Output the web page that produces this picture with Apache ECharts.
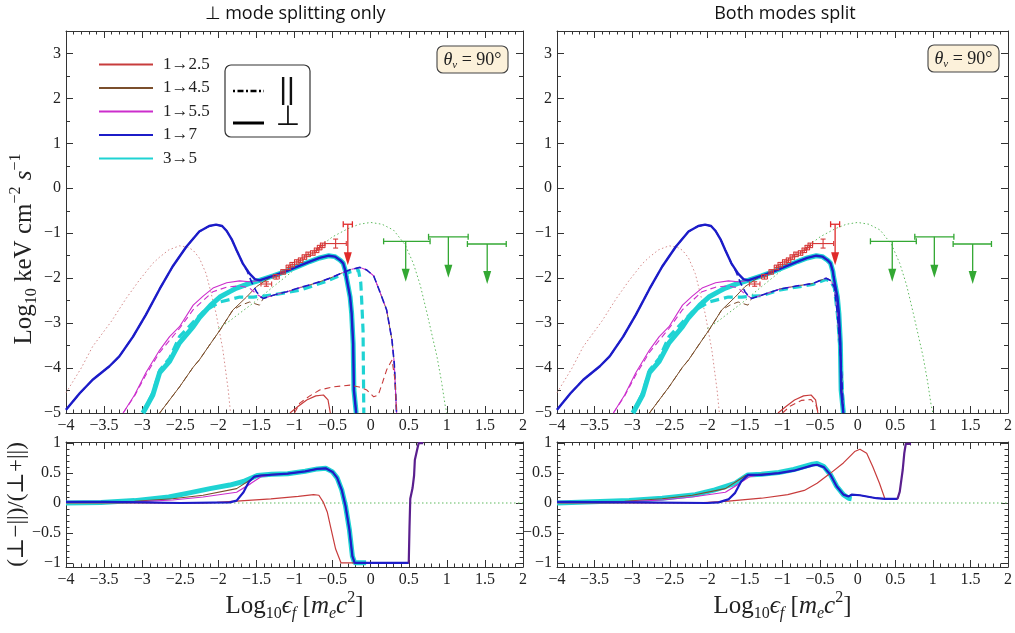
<!DOCTYPE html>
<html><head><meta charset="utf-8">
<script src="https://cdn.jsdelivr.net/npm/echarts@6/dist/echarts.min.js"></script>
<style>html,body{margin:0;padding:0;background:#fff}#c{width:1015px;height:633px}</style>
</head><body><div id="c"></div><script>
// ---------------- DATA ----------------
const legendNames = ['1→2.5', '1→4.5', '1→5.5', '1→7', '3→5'];
const xTickMin = -4, xTickMax = 2, xTickStep = 0.5;
const specMin = -5, specMax = 3.5, specStep = 1;
const ratioLabels = [-1, -0.5, 0, 0.5, 1];

// spectra (log10 flux) -- shared model curves
const pinkDotted = [[-4,-4.55],[-3.8,-4.0],[-3.65,-3.52],[-3.4,-2.95],[-3.21,-2.45],[-3.04,-2.05],[-2.86,-1.67],[-2.77,-1.53],[-2.65,-1.37],[-2.51,-1.28],[-2.4,-1.31],[-2.33,-1.38],[-2.25,-1.55],[-2.16,-1.9],[-2.1,-2.3],[-2.03,-2.78],[-1.94,-3.6],[-1.87,-4.49],[-1.84,-5]];
const greenDotted = [[-2.0,-3.12],[-1.85,-2.95],[-1.72,-2.78],[-1.5,-2.5],[-1.28,-2.19],[-1.05,-1.88],[-0.84,-1.55],[-0.67,-1.3],[-0.5,-1.08],[-0.3,-0.9],[-0.15,-0.8],[0,-0.76],[0.15,-0.8],[0.3,-0.93],[0.45,-1.25],[0.56,-1.67],[0.65,-2.15],[0.74,-2.78],[0.87,-3.74],[0.93,-4.3],[0.98,-4.85],[1.0,-5]];
const upperTail = [[-1.41,-2.02],[-1.28,-1.95],[-1.1,-1.84],[-0.93,-1.72],[-0.8,-1.63],[-0.67,-1.55],[-0.55,-1.5],[-0.47,-1.52],[-0.4,-1.6],[-0.36,-1.67],[-0.33,-1.85],[-0.32,-1.97],[-0.27,-2.42],[-0.25,-2.78],[-0.23,-3.45],[-0.22,-4.49],[-0.19,-5]];
const lowerTailL = [[-1.41,-2.45],[-1.28,-2.38],[-1.1,-2.3],[-0.93,-2.21],[-0.8,-2.15],[-0.67,-2.08],[-0.55,-2.01],[-0.4,-1.9],[-0.27,-1.81],[-0.14,-1.76],[-0.05,-1.82],[0.04,-1.95],[0.12,-2.3],[0.21,-2.71],[0.28,-3.38],[0.31,-3.9],[0.34,-5]];
const lowerTailR = [[-1.41,-2.45],[-1.28,-2.38],[-1.03,-2.24],[-0.8,-2.17],[-0.6,-2.12],[-0.5,-2.05],[-0.42,-2.0],[-0.36,-2.05],[-0.31,-2.2],[-0.27,-2.79],[-0.22,-3.9],[-0.19,-5]];
const blueHead = [[-4,-4.93],[-3.82,-4.56],[-3.65,-4.26],[-3.43,-3.96],[-3.3,-3.74],[-3.12,-3.3],[-2.95,-2.81],[-2.77,-2.24],[-2.6,-1.74],[-2.42,-1.3],[-2.25,-0.96],[-2.12,-0.84],[-2.03,-0.81],[-1.95,-0.84],[-1.89,-0.95],[-1.82,-1.15],[-1.76,-1.38],[-1.68,-1.67]];
const bluePerpMid = [[-1.59,-1.9],[-1.52,-2.02],[-1.46,-2.05]];
const blueParMid = [[-1.62,-1.85],[-1.56,-2.1],[-1.5,-2.3],[-1.44,-2.42]];
const cyanPerpHead = [[-2.99,-5],[-2.86,-4.6],[-2.77,-4.1],[-2.64,-3.85],[-2.51,-3.44],[-2.33,-3.08],[-2.25,-2.88],[-2.1,-2.6],[-1.98,-2.42],[-1.85,-2.3],[-1.76,-2.22],[-1.6,-2.12],[-1.5,-2.07]];
const cyanParHead = [[-2.99,-5],[-2.86,-4.55],[-2.77,-4.05],[-2.64,-3.78],[-2.51,-3.3],[-2.33,-2.98],[-2.2,-2.75],[-1.98,-2.53],[-1.72,-2.42],[-1.54,-2.42],[-1.41,-2.4]];
const cyanParTailL = [[-1.28,-2.37],[-0.93,-2.27],[-0.58,-2.07],[-0.4,-1.94],[-0.27,-1.86],[-0.16,-1.82],[-0.13,-2.1],[-0.12,-2.42],[-0.1,-3.16],[-0.09,-5]];
const cyanParTailR = [[-1.28,-2.39],[-1.03,-2.26],[-0.6,-2.14],[-0.42,-2.03],[-0.36,-2.07],[-0.31,-2.22],[-0.27,-2.8],[-0.22,-3.9],[-0.19,-5]];
const magPerpHead = [[-3.25,-5],[-3.1,-4.6],[-2.95,-4.1],[-2.77,-3.6],[-2.64,-3.3],[-2.51,-3.08],[-2.33,-2.6],[-2.2,-2.4],[-2.07,-2.22],[-1.89,-2.1],[-1.72,-2.06],[-1.59,-2.08],[-1.5,-2.06]];
const magParHead = [[-3.25,-5],[-3.1,-4.62],[-2.95,-4.15],[-2.77,-3.65],[-2.51,-3.12],[-2.33,-2.7],[-2.07,-2.3],[-1.89,-2.2],[-1.72,-2.17],[-1.59,-2.22],[-1.5,-2.35]];
const brownHead = [[-2.77,-5],[-2.6,-4.62],[-2.51,-4.42],[-2.33,-3.98],[-2.25,-3.82],[-2.1,-3.45],[-1.98,-3.16],[-1.81,-2.71]];
const brownPerpMid = [[-1.63,-2.42],[-1.5,-2.19],[-1.37,-2.04]];
const brownParMid = [[-1.7,-2.6],[-1.59,-2.53],[-1.46,-2.6]];
const redPerp = [[-1.06,-5],[-0.95,-4.85],[-0.84,-4.71],[-0.72,-4.62],[-0.62,-4.6],[-0.56,-4.71],[-0.53,-5]];
const redParL = [[-1.0,-5],[-0.93,-4.78],[-0.8,-4.62],[-0.67,-4.49],[-0.5,-4.42],[-0.27,-4.38],[-0.15,-4.42],[-0.05,-4.49],[0.04,-4.64],[0.1,-4.6],[0.16,-4.3],[0.21,-4.04],[0.28,-3.82],[0.32,-4.27],[0.34,-5]];
const redParR = [[-1.0,-5],[-0.9,-4.85],[-0.75,-4.72],[-0.62,-4.7],[-0.55,-4.85],[-0.52,-5]];

// observed points: x, y with symmetric errors
const obsX = [-1.37,-1.24,-1.15,-1.08,-1.03,-0.97,-0.92,-0.87,-0.82,-0.76,-0.71,-0.67,-0.63,-0.46];
const obsY = [-2.13,-1.97,-1.86,-1.76,-1.70,-1.64,-1.60,-1.53,-1.47,-1.44,-1.38,-1.32,-1.27,-1.23];
const obsXerr = [0.07,0.04,0.03,0.03,0.03,0.03,0.03,0.03,0.03,0.03,0.03,0.03,0.03,0.14];
const obsYerr = [0.05,0.05,0.05,0.05,0.05,0.05,0.05,0.05,0.05,0.05,0.05,0.05,0.05,0.1];
// upper limits: x, y, xLow, xHigh, arrowTipY
const redLimit = [[-0.30,-0.80,-0.36,-0.24,-1.71]];
const greenLimits = [[0.46,-1.18,0.17,0.78,-2.08],[1.02,-1.08,0.76,1.28,-1.99],[1.53,-1.24,1.27,1.78,-2.13]];

// polarisation ratio (⊥−||)/(⊥+||)
const zeroLine = [[-4,0],[2,0]];
const riseTail = [[0.5,-1],[0.51,-0.4],[0.52,0.07],[0.55,0.25],[0.57,0.46],[0.58,0.72],[0.61,0.89],[0.63,1],[0.69,1]];
const ratioTailL = [[-1.09,0.49],[-0.86,0.53],[-0.7,0.57],[-0.59,0.58],[-0.5,0.52],[-0.44,0.42],[-0.38,0.22],[-0.33,-0.05],[-0.28,-0.44],[-0.24,-0.89],[-0.21,-1]];
const ratioRedL = [[-4,0],[-3,0],[-2.2,0],[-2.02,0.01],[-1.76,0.03],[-1.31,0.07],[-0.95,0.11],[-0.75,0.14],[-0.68,0.13],[-0.62,0.01],[-0.57,-0.15],[-0.53,-0.38],[-0.46,-0.77],[-0.39,-1],[0.5,-1]];
const ratioBlueHeadL = [[-4,0.02],[-3.5,0.02],[-3,0.01],[-2.5,0.0],[-1.85,0.01],[-1.76,0.04],[-1.67,0.18],[-1.6,0.35],[-1.53,0.44],[-1.44,0.46]];
const ratioCyanHeadL = [[-4,0],[-3.54,0.01],[-3.1,0.04],[-2.65,0.1],[-2.38,0.17],[-2.11,0.24],[-1.85,0.3],[-1.67,0.36],[-1.49,0.46],[-1.3,0.48]];
const ratioCyanEndL = [[-0.06,-1]];
const ratioMagHead = [[-4,0.01],[-3.1,0.02],[-2.6,0.05],[-2.2,0.1],[-1.76,0.18],[-1.58,0.32],[-1.44,0.44],[-1.3,0.47]];
const ratioBrownHead = [[-4,0.01],[-3.1,0.03],[-2.6,0.07],[-2.2,0.13],[-1.76,0.24],[-1.49,0.46],[-1.3,0.48]];
const ratioTailR = [[-1.05,0.5],[-0.85,0.54],[-0.6,0.63],[-0.54,0.64],[-0.45,0.6],[-0.36,0.47],[-0.28,0.28],[-0.19,0.14],[-0.12,0.11],[-0.08,0.14],[0.03,0.13],[0.25,0.08],[0.36,0.07],[0.53,0.07],[0.56,0.19],[0.6,0.56],[0.62,0.83],[0.64,0.99],[0.71,0.99]];
const ratioRedR = [[-4,0],[-2.16,0],[-1.72,0.03],[-1.28,0.08],[-0.93,0.14],[-0.71,0.21],[-0.54,0.33],[-0.36,0.5],[-0.19,0.67],[-0.04,0.86],[0.03,0.9],[0.12,0.83],[0.2,0.61],[0.29,0.33],[0.36,0.08],[0.42,0.06],[0.53,0.06]];
const ratioBlueHeadR = [[-4,0.02],[-3,0.01],[-2,0.0],[-1.85,0.01],[-1.72,0.06],[-1.63,0.17],[-1.55,0.36],[-1.46,0.47],[-1.28,0.47]];
const ratioCyanR = [[-4,0],[-3.04,0.04],[-2.6,0.08],[-2.16,0.14],[-1.9,0.22],[-1.63,0.33],[-1.46,0.47],[-1.28,0.48],[-1.05,0.51],[-0.85,0.56],[-0.6,0.65],[-0.54,0.66],[-0.45,0.61],[-0.36,0.47],[-0.28,0.28],[-0.19,0.14],[-0.12,0.08],[-0.08,0.07]];

// ---------------- STYLE ----------------
const RED = '#c83c3c', BROWN = '#7b4f2c', MAG = '#cc2ecc', BLUE = '#1c1cc8', CYAN = '#1fd3d3', PURPLE = '#5a1f8e';
const SERIF = 'Liberation Serif, DejaVu Serif, serif';
const AX = '#333';
const fmt = v => (Math.abs(v) < 1e-9 ? '0' : String(+v.toFixed(2))).replace('-', '−');

const grids = [
  {left: 66, right: 492, top: 31, height: 382},
  {left: 557, right: 1, top: 31, height: 382},
  {left: 66, right: 492, top: 442, height: 125},
  {left: 557, right: 1, top: 442, height: 125}
];

const NF = 25;
const nameRich = {
  b: {fontFamily: SERIF, fontSize: NF, color: '#222', lineHeight: 32},
  i: {fontFamily: SERIF, fontSize: NF, fontStyle: 'italic', color: '#222', lineHeight: 32},
  s: {fontFamily: SERIF, fontSize: 16, color: '#222', verticalAlign: 'bottom', lineHeight: 24},
  si: {fontFamily: SERIF, fontSize: 16, fontStyle: 'italic', color: '#222', verticalAlign: 'bottom', lineHeight: 24},
  p: {fontFamily: SERIF, fontSize: 16, color: '#222', verticalAlign: 'top', lineHeight: 19}
};
const tickLabel = {show: true, fontFamily: SERIF, fontSize: 16, color: '#222', margin: 5, formatter: fmt};

function xAxes(g, withName) {
  const base = {
    gridIndex: g, type: 'value', min: xTickMin, max: xTickMax, interval: xTickStep,
    axisLine: {show: true, onZero: false, lineStyle: {color: AX, width: 1}},
    axisTick: {show: true, inside: true, length: 7, lineStyle: {color: AX}},
    minorTick: {show: true, splitNumber: 5, length: 3.5, lineStyle: {color: AX}},
    splitLine: {show: false}, minorSplitLine: {show: false}
  };
  const bottom = Object.assign({}, base, {position: 'bottom', axisLabel: tickLabel});
  if (withName) {
    Object.assign(bottom, {
      name: '{b|Log}{s|10}{i|ϵ}{si|f}{b| [}{i|m}{si|e}{i|c}{p|2}{b|]}',
      nameLocation: 'middle', nameGap: 23,
      nameTextStyle: {rich: nameRich}
    });
  }
  const top = Object.assign({}, base, {position: 'top', axisLabel: {show: false}});
  return [bottom, top];
}

function specYAxes(g, withName) {
  const base = {
    gridIndex: g, type: 'value', min: specMin, max: specMax, interval: specStep,
    axisLine: {show: true, onZero: false, lineStyle: {color: AX, width: 1}},
    axisTick: {show: true, inside: true, length: 7, lineStyle: {color: AX}},
    minorTick: {show: true, splitNumber: 2, length: 4, lineStyle: {color: AX}},
    splitLine: {show: false}, minorSplitLine: {show: false}
  };
  const left = Object.assign({}, base, {
    position: 'left', axisLabel: Object.assign({}, tickLabel, {showMaxLabel: false})
  });
  if (withName) {
    Object.assign(left, {
      name: '{b|Log}{s|10}{b| keV cm}{p|−2}{i| s}{p|−1}',
      nameLocation: 'middle', nameGap: 22, nameRotate: 90,
      nameTextStyle: {rich: nameRich, padding: [0, 54, 0, 0]}
    });
  }
  const right = Object.assign({}, base, {position: 'right', axisLabel: {show: false}});
  return [left, right];
}

const ratioMinor = [];
for (let k = -10; k <= 10; k++) { if (k % 5 !== 0) ratioMinor.push(k / 10); }

function ratioYAxes(g, withName) {
  const base = {gridIndex: g, type: 'value', min: -1.07, max: 1.02, splitLine: {show: false}};
  const mk = (pos, major, label) => Object.assign({}, base, {
    position: pos,
    axisLine: {show: major, onZero: false, lineStyle: {color: AX, width: 1}},
    axisTick: {show: true, inside: true, length: major ? 7 : 3.5, lineStyle: {color: AX},
               customValues: major ? ratioLabels : ratioMinor},
    axisLabel: label ? Object.assign({}, tickLabel, {customValues: ratioLabels}) : {show: false}
  });
  const left = mk('left', true, true);
  if (withName) {
    Object.assign(left, {
      name: '(⊥−||)/(⊥+||)', nameLocation: 'middle', nameGap: 30, nameRotate: 90,
      nameTextStyle: {fontFamily: SERIF, fontSize: 23, color: '#222'}
    });
  }
  return [left, mk('left', false, false), mk('right', true, false), mk('right', false, false)];
}

const xAxis = [].concat(xAxes(0, false), xAxes(1, false), xAxes(2, true), xAxes(3, true));
const yAxis = [].concat(specYAxes(0, true), specYAxes(1, false), ratioYAxes(2, true), ratioYAxes(3, false));
const XI = [0, 2, 4, 6], YI = [0, 2, 4, 8];

function L(name, data, color, width, type, g, z) {
  return {
    type: 'line', name, data, xAxisIndex: XI[g], yAxisIndex: YI[g],
    symbol: 'none', showSymbol: false, silent: true, clip: true,
    lineStyle: {color, width, type: type || 'solid'}, itemStyle: {color},
    z: z || 2, animation: false
  };
}

const obsData = obsX.map((x, i) => [x, obsY[i], x - obsXerr[i], x + obsXerr[i], obsY[i] - obsYerr[i], obsY[i] + obsYerr[i]]);

function errBars(g) {
  return {
    type: 'custom', name: 'obs', xAxisIndex: XI[g], yAxisIndex: YI[g], data: obsData, z: 5,
    silent: true, animation: false,
    encode: {x: [0, 2, 3], y: [1, 4, 5]},
    renderItem: function (params, api) {
      const x = api.value(0), y = api.value(1);
      const pl = api.coord([api.value(2), y]), pr = api.coord([api.value(3), y]);
      const pb = api.coord([x, api.value(4)]), pt = api.coord([x, api.value(5)]);
      const st = {stroke: '#d63a3a', lineWidth: 1.1};
      const c = 2.5;
      const ln = (a, b, c2, d) => ({type: 'line', shape: {x1: a, y1: b, x2: c2, y2: d}, style: st});
      return {type: 'group', children: [
        ln(pl[0], pl[1], pr[0], pr[1]), ln(pb[0], pb[1], pt[0], pt[1]),
        ln(pl[0], pl[1] - c, pl[0], pl[1] + c), ln(pr[0], pr[1] - c, pr[0], pr[1] + c),
        ln(pt[0] - c, pt[1], pt[0] + c, pt[1]), ln(pb[0] - c, pb[1], pb[0] + c, pb[1])
      ]};
    }
  };
}

function limits(g, data, color) {
  return {
    type: 'custom', name: 'ul', xAxisIndex: XI[g], yAxisIndex: YI[g], data, z: 5,
    silent: true, animation: false,
    encode: {x: [0, 2, 3], y: [1, 4]},
    renderItem: function (params, api) {
      const x = api.value(0), y = api.value(1);
      const pl = api.coord([api.value(2), y]), pr = api.coord([api.value(3), y]);
      const p0 = api.coord([x, y]), pt = api.coord([x, api.value(4)]);
      const st = {stroke: color, lineWidth: 1.3};
      const c = 3;
      const ln = (a, b, c2, d) => ({type: 'line', shape: {x1: a, y1: b, x2: c2, y2: d}, style: st});
      return {type: 'group', children: [
        ln(pl[0], pl[1], pr[0], pr[1]),
        ln(pl[0], pl[1] - c, pl[0], pl[1] + c), ln(pr[0], pr[1] - c, pr[0], pr[1] + c),
        ln(p0[0], p0[1], pt[0], pt[1] - 10),
        {type: 'polygon', shape: {points: [[pt[0] - 4, pt[1] - 13], [pt[0] + 4, pt[1] - 13], [pt[0], pt[1]]]},
         style: {fill: color}}
      ]};
    }
  };
}

const DOT = [1.5, 2.5];
function spectraSeries(g, P) {
  return [
    L('pinkModel', pinkDotted, '#d68c8c', 1, DOT, g),
    L('greenModel', greenDotted, '#5fba5f', 1, DOT, g),
    L('3→5', cyanPerpHead.concat(upperTail), CYAN, 5, 'solid', g),
    L('3→5', P.cyanPar, CYAN, 3.2, [9, 5], g),
    L('1→4.5', brownHead.concat(brownPerpMid, upperTail.slice(1)), BROWN, 1, 'solid', g),
    L('1→4.5', brownHead.concat(brownParMid, P.lower), BROWN, 1, [6, 4], g),
    L('1→5.5', magPerpHead.concat(upperTail), MAG, 1.1, 'solid', g),
    L('1→5.5', magParHead.concat(P.lower), MAG, 1.1, [6, 4], g),
    L('1→7', blueHead.concat(bluePerpMid, upperTail), BLUE, 2.4, 'solid', g),
    L('1→7', blueHead.concat(blueParMid, P.lower), BLUE, 1.6, [7, 4], g),
    L('1→2.5', redPerp, RED, 1.2, 'solid', g),
    L('1→2.5', P.redPar, RED, 1.1, [6, 4], g),
    errBars(g),
    limits(g, redLimit, '#e02a2a'),
    limits(g, greenLimits, '#33a833')
  ];
}

function ratioSeries(g, R) {
  return [
    L('zero', zeroLine, '#5fba5f', 1.2, DOT, g),
    L('3→5', R.cyan, CYAN, 5, 'solid', g),
    L('1→2.5', R.red, RED, 1.2, 'solid', g),
    L('1→4.5', R.brown, BROWN, 1.1, 'solid', g),
    L('1→5.5', R.mag, MAG, 1.2, 'solid', g),
    L('1→7', R.blue, BLUE, 2.2, 'solid', g),
    L('rise', riseTail, PURPLE, 2.2, 'solid', g)
  ];
}

const series = [].concat(
  spectraSeries(0, {cyanPar: cyanParHead.concat(cyanParTailL), lower: lowerTailL, redPar: redParL}),
  spectraSeries(1, {cyanPar: cyanParHead.concat(cyanParTailR), lower: lowerTailR, redPar: redParR}),
  ratioSeries(2, {
    cyan: ratioCyanHeadL.concat(ratioTailL, ratioCyanEndL),
    red: ratioRedL,
    brown: ratioBrownHead.concat(ratioTailL, [[0.5, -1]]),
    mag: ratioMagHead.concat(ratioTailL, [[0.5, -1]]),
    blue: ratioBlueHeadL.concat(ratioTailL, [[0.5, -1]])
  }),
  ratioSeries(3, {
    cyan: ratioCyanR,
    red: ratioRedR,
    brown: ratioBrownHead.concat(ratioTailR.slice(0, 14)),
    mag: ratioMagHead.concat(ratioTailR.slice(0, 14)),
    blue: ratioBlueHeadR.concat(ratioTailR.slice(0, 14))
  })
);
// right-panel rise of the ratio uses the same library-drawn tail shape
series[series.length - 1].data = ratioTailR.slice(13);

function thetaBox(x, y) {
  return {
    type: 'group', x, y, children: [
      {type: 'rect', shape: {x: 0, y: 0, width: 71, height: 27, r: 6},
       style: {fill: '#fcf1da', stroke: '#444', lineWidth: 1.1}},
      {type: 'text', x: 35.5, y: 14, style: {
        text: '{t|θ}{s|v}{n| = 90°}', align: 'center', verticalAlign: 'middle',
        rich: {
          t: {fontFamily: SERIF, fontSize: 18, fontStyle: 'italic', fill: '#222', lineHeight: 22},
          s: {fontFamily: SERIF, fontSize: 11, fontStyle: 'italic', fill: '#222', verticalAlign: 'bottom', lineHeight: 16},
          n: {fontFamily: SERIF, fontSize: 18, fill: '#222', lineHeight: 22}
        }
      }}
    ]
  };
}

const graphic = [
  {type: 'text', x: 295, y: 14, style: {text: '⊥ mode splitting only', align: 'center', verticalAlign: 'middle',
    font: '18px "Open Sans", sans-serif', fill: '#111'}},
  {type: 'text', x: 785, y: 14, style: {text: 'Both modes split', align: 'center', verticalAlign: 'middle',
    font: '18px "Open Sans", sans-serif', fill: '#111'}},
  thetaBox(437, 46),
  thetaBox(928, 45),
  {type: 'group', x: 225, y: 65, z: 10, children: [
    {type: 'rect', shape: {x: 0, y: 0, width: 85, height: 72, r: 6},
     style: {fill: '#fff', stroke: '#333', lineWidth: 1.2}},
    {type: 'line', shape: {x1: 8, y1: 26, x2: 39, y2: 26},
     style: {stroke: '#000', lineWidth: 2.5, lineDash: [2, 2.5, 6, 2.5]}},
    {type: 'line', shape: {x1: 8, y1: 58, x2: 39, y2: 58}, style: {stroke: '#000', lineWidth: 3}},
    {type: 'text', x: 62, y: 26, style: {text: '||', align: 'center', verticalAlign: 'middle',
      font: '30px "Liberation Sans", sans-serif', fill: '#111'}},
    {type: 'text', x: 63, y: 53, style: {text: '⊥', align: 'center', verticalAlign: 'middle',
      font: '28px "DejaVu Sans", sans-serif', fill: '#111'}}
  ]}
];

const option = {
  animation: false,
  backgroundColor: '#fff',
  grid: grids,
  xAxis, yAxis, series, graphic,
  legend: {
    data: legendNames, selectedMode: false, orient: 'vertical',
    left: 93, top: 51, itemWidth: 54, itemHeight: 14, itemGap: 6.5,
    itemStyle: {opacity: 0},
    textStyle: {fontFamily: SERIF, fontSize: 17, color: '#222', padding: [0, 0, 0, 5]}
  }
};

const chart = echarts.init(document.getElementById('c'), null, {renderer: 'canvas'});
chart.setOption(option);
</script></body></html>
